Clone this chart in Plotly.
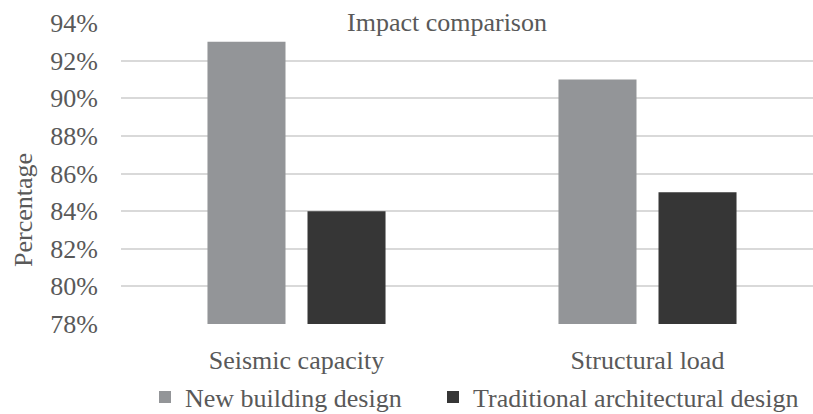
import plotly.graph_objects as go

# Chart data
categories = ["Seismic capacity", "Structural load"]
new_design = [93, 91]
traditional_design = [84, 85]
series_names = ["New building design", "Traditional architectural design"]
y_ticks = [78, 80, 82, 84, 86, 88, 90, 92, 94]
y_tick_labels = [f"{v}%" for v in y_ticks]

FONT = "Liberation Serif, Times New Roman, serif"
TEXT = "#595959"
W, H = 813, 414
ML, MR, MT, MB = 121, 0, 23, 90
plot_w = W - ML - MR
cat_px = 351  # pixel width of one category slot

def px_x(px):
    return (px - ML) / plot_w

def px_y(py):
    return 1 - (py - MT) / (H - MT - MB)

fig = go.Figure()
fig.add_trace(go.Bar(x=categories, y=new_design, name=series_names[0],
                     legend="legend",
                     marker=dict(color="#939598", line=dict(width=0))))
fig.add_trace(go.Bar(x=categories, y=traditional_design, name=series_names[1],
                     legend="legend2",
                     marker=dict(color="#363636", line=dict(width=0))))

legend_common = dict(orientation="h", yanchor="middle", y=px_y(397),
                     xanchor="left", itemwidth=30,
                     font=dict(family=FONT, size=26, color=TEXT),
                     bgcolor="rgba(0,0,0,0)")

fig.update_layout(
    width=W, height=H,
    margin=dict(l=ML, r=MR, t=MT, b=MB, autoexpand=False),
    paper_bgcolor="white", plot_bgcolor="white",
    font=dict(family=FONT, size=26, color=TEXT),
    barmode="group", bargap=0.43, bargroupgap=0.22,
    showlegend=True,
    legend=dict(x=px_x(145), **legend_common),
    legend2=dict(x=px_x(433), **legend_common),
    xaxis=dict(range=[-0.5, -0.5 + plot_w / cat_px], showgrid=False,
               showline=False, zeroline=False, ticks="",
               ticklabelstandoff=18,
               tickfont=dict(family=FONT, size=26, color=TEXT)),
    yaxis=dict(range=[78, 94], tickvals=y_ticks, ticktext=y_tick_labels,
               showgrid=True, gridcolor="#d9d9d9", gridwidth=1.5,
               zeroline=False, showline=False, ticks="",
               ticklabelstandoff=22,
               tickfont=dict(family=FONT, size=26, color=TEXT)),
    annotations=[
        dict(text="Impact comparison", xref="paper", yref="paper",
             x=px_x(447), y=px_y(22), xanchor="center", yanchor="middle",
             showarrow=False, bgcolor="white", borderpad=0,
             font=dict(family=FONT, size=26, color=TEXT)),
        dict(text="Percentage", xref="paper", yref="paper",
             x=px_x(23), y=px_y(210), xanchor="center", yanchor="middle",
             textangle=-90, showarrow=False,
             font=dict(family=FONT, size=26, color=TEXT)),
    ],
)

fig.write_html("out.html")
